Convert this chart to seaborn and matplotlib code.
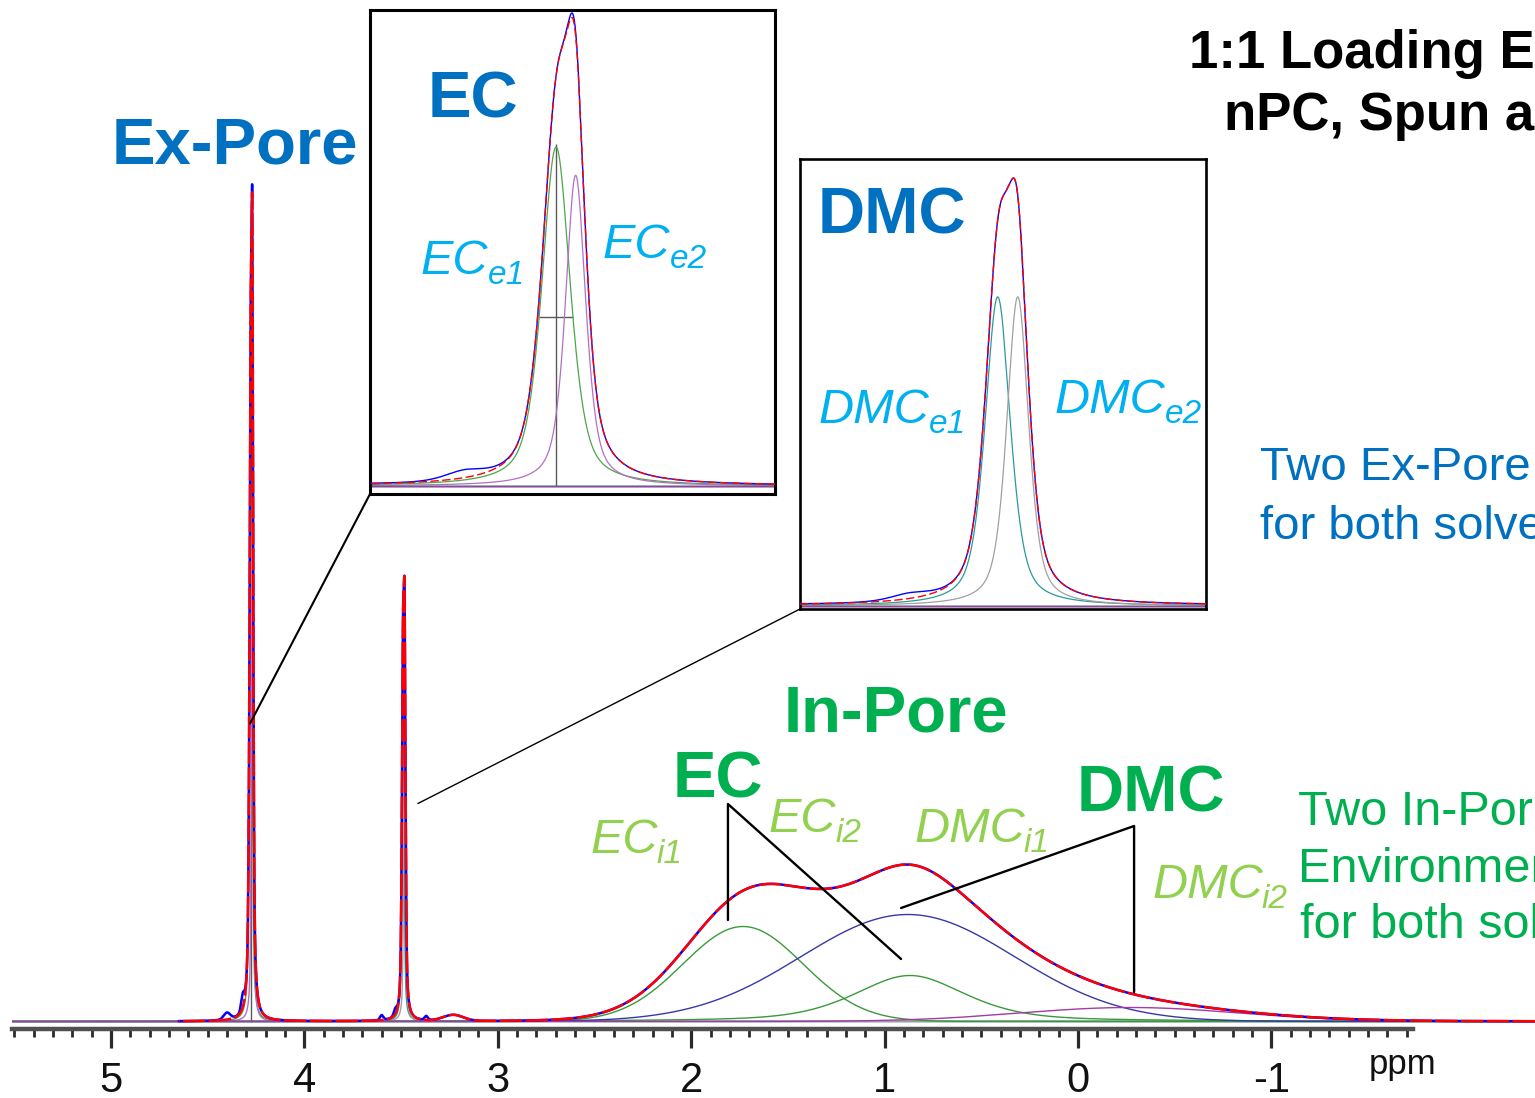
import numpy as np
import matplotlib
matplotlib.use("Agg")
import matplotlib.pyplot as plt
import seaborn as sns
from matplotlib.patches import ConnectionPatch
from matplotlib.text import Annotation
from matplotlib.ticker import FixedLocator, StrMethodFormatter

# ---------------------------------------------------------------
# Deconvolution of the 1H MAS spectrum: fitted line shapes
# (centre in ppm, peak intensity, FWHM in ppm, Lorentzian fraction)
# ---------------------------------------------------------------
comp_names = ["EC_e1", "EC_e2", "DMC_e1", "DMC_e2", "EC_i1", "EC_i2", "DMC_i1", "DMC_i2"]
comp_center = [4.2773, 4.2686, 3.4902, 3.4813, 1.732, 0.869, 0.880, -0.269]
comp_height = [600, 550, 322, 322, 95, 46, 107, 14]
comp_fwhm = [0.0150, 0.0107, 0.0133, 0.0115, 0.73, 0.68, 1.30, 1.34]
comp_lorentz = [0.55, 0.60, 0.55, 0.55, 0.0, 0.5, 0.0, 0.0]
comp_colors = ["#4CA64C", "#B36FC4", "#2A9A9A", "#A0A0A0",
               "#3A9A3A", "#3A9A3A", "#3838A8", "#A23AA8"]

# weak extra line included in the fit
minor_center = [3.23]
minor_height = [6]
minor_fwhm = [0.12]

# features present only in the measured spectrum (fit residual)
resid_center = [4.400, 4.318, 4.270, 3.600, 3.529, 3.370]
resid_height = [7, 14, 8, 5, 6, 4]
resid_fwhm = [0.040, 0.020, 0.005, 0.020, 0.020, 0.020]

# acquired spectral window (ppm)
acq_window = [4.65, -2.40]

# axis tick values
major_ticks = [5, 4, 3, 2, 1, 0, -1]


def pseudo_voigt(x, c, h, w, eta):
    d = (x - c) / w
    lor = 1.0 / (1.0 + 4.0 * d ** 2)
    gau = np.exp(-4.0 * np.log(2.0) * d ** 2)
    return h * (eta * lor + (1.0 - eta) * gau)


ppm = np.linspace(-2.40, 5.55, 39751)
comp_curves = [pseudo_voigt(ppm, c, h, w, e)
               for c, h, w, e in zip(comp_center, comp_height, comp_fwhm, comp_lorentz)]
fit = np.sum(comp_curves, axis=0)
for c, h, w in zip(minor_center, minor_height, minor_fwhm):
    fit = fit + pseudo_voigt(ppm, c, h, w, 0.0)
measured = fit.copy()
for c, h, w in zip(resid_center, resid_height, resid_fwhm):
    measured = measured + pseudo_voigt(ppm, c, h, w, 0.3)
in_win = (ppm <= acq_window[0]) & (ppm >= acq_window[1])

# ---------------------------------------------------------------
sns.set_theme(style="white")
plt.rcParams["font.family"] = ["Liberation Sans", "DejaVu Sans"]
plt.rcParams["axes.unicode_minus"] = False

W, H = 1535, 1098


def fx(px):
    return px / W


def fy(py):
    return 1.0 - py / H


fig = plt.figure(figsize=(W / 100, H / 100), dpi=100)
fig.patch.set_facecolor("white")


def draw_spectrum(axis, comp_lw, main_lw, dash):
    for curve, col in zip(comp_curves, comp_colors):
        sns.lineplot(x=ppm, y=curve, ax=axis, color=col, lw=comp_lw,
                     estimator=None, sort=False, zorder=2)
    sns.lineplot(x=ppm[in_win], y=measured[in_win], ax=axis, color="#0000FF",
                 lw=main_lw, estimator=None, sort=False, zorder=3)
    sns.lineplot(x=ppm[in_win], y=fit[in_win], ax=axis, color="#FF0000",
                 lw=main_lw, linestyle=(0, dash), estimator=None, sort=False, zorder=4)
    # peak-picking marker on EC_e1 (position and half-height width)
    c0, h0, w0 = comp_center[0], comp_height[0], comp_fwhm[0]
    axis.vlines(c0, 0, h0 * 1.01, color="#5A5A5A", lw=1.0, zorder=1.5)
    axis.hlines(h0 / 2, c0 - w0 / 2, c0 + w0 / 2, color="#5A5A5A", lw=1.0, zorder=1.5)


# ---------------- main spectrum ----------------
ax = fig.add_axes([fx(12), fy(1029), fx(1535) - fx(12), 1029 / H])
draw_spectrum(ax, comp_lw=1.0, main_lw=1.8, dash=(9, 1.3))
x_left = (1078 - 12) / 193.4
x_right = (1078 - 1535) / 193.4
ax.set_xlim(x_left, x_right)
ax.set_ylim(-7.5, 1021.5)
for s in ["top", "left", "right"]:
    ax.spines[s].set_visible(False)
ax.spines["bottom"].set_color("#505050")
ax.spines["bottom"].set_linewidth(3.2)
ax.spines["bottom"].set_bounds(x_left, -1.73)
ax.set_yticks([])
ax.set_ylabel("")
ax.xaxis.set_major_locator(FixedLocator(major_ticks))
minor = [v / 10 for v in range(-17, 56) if v % 10 != 0]
ax.xaxis.set_minor_locator(FixedLocator(minor))
ax.xaxis.set_major_formatter(StrMethodFormatter("{x:.0f}"))
ax.tick_params(axis="x", which="major", direction="out", length=14, width=2.3,
               color="#2a2a2a", labelsize=30, pad=9, labelcolor="#111111", bottom=True)
ax.tick_params(axis="x", which="minor", direction="out", length=6, width=2.0,
               color="#2a2a2a", bottom=True)
ax.set_xlabel("ppm", fontsize=25, color="#111111")
ax.xaxis.label.set_va("baseline")
ax.xaxis.set_label_coords((1403 - 12) / (1535 - 12), -(1074 - 1029) / 1029)

# leader lines for the in-pore components
ax.plot([1.81, 1.81, 0.915], [101.5, 217.5, 62.5], color="black", lw=1.7, zorder=6)
ax.plot([-0.29, -0.29, 0.915], [29.5, 195.5, 113.5], color="black", lw=1.7, zorder=6)


# ---------------- insets: ex-pore EC and DMC lines ----------------
def make_inset(rect_px, xlim, peak_px, base_px, bottom_px, top_px, frame_lw):
    x0, y0, x1, y1 = rect_px
    a = fig.add_axes([fx(x0), fy(y1), fx(x1 - x0), (y1 - y0) / H], zorder=5)
    a.set_facecolor("white")
    draw_spectrum(a, comp_lw=0.9, main_lw=1.0, dash=(6, 2.5))
    a.set_xlim(*xlim)
    sel = (ppm <= xlim[0]) & (ppm >= xlim[1])
    k = measured[sel].max() / peak_px
    a.set_ylim(-(bottom_px - base_px) * k, (base_px - top_px) * k)
    a.set_xticks([])
    a.set_yticks([])
    a.set_xlabel("")
    a.set_ylabel("")
    for s in a.spines.values():
        s.set_visible(True)
        s.set_color("black")
        s.set_linewidth(frame_lw)
    return a


ax1 = make_inset((370, 10, 775, 494), (4.36, 4.18), 473, 486, 494, 10, 2.2)
ax2 = make_inset((800, 159, 1206, 609), (3.578, 3.3977), 428, 606, 609, 159, 1.9)

fig.add_artist(ConnectionPatch(xyA=(0, 0), coordsA=ax1.transAxes,
                               xyB=(4.281, 298), coordsB=ax.transData,
                               color="black", lw=1.5, zorder=7))
fig.add_artist(ConnectionPatch(xyA=(0, 0), coordsA=ax2.transAxes,
                               xyB=(3.413, 218), coordsB=ax.transData,
                               color="black", lw=1.0, zorder=7))

# ---------------- labels ----------------
BLUE_D, BLUE_L = "#0070C0", "#00B0F0"
GREEN_D, GREEN_L = "#00B050", "#92D050"


def put(px, py, s, **kw):
    return fig.text(fx(px), fy(py), s, ha="left", va="baseline", zorder=10, **kw)


def put_sub(px, py, main, sub, color):
    t = put(px, py, main, fontsize=35, fontstyle="italic", color=color)
    fig.add_artist(Annotation(sub, xy=(1.0, 0.0), xycoords=t, xytext=(-1, 0),
                              textcoords="offset pixels", ha="left", va="baseline",
                              fontsize=24, fontstyle="italic", color=color, zorder=10))


put(112, 163, "Ex-Pore", fontsize=47, fontweight="bold", color=BLUE_D)
put(428, 117, "EC", fontsize=47, fontweight="bold", color=BLUE_D)
put(818, 234, "DMC", fontsize=47, fontweight="bold", color=BLUE_D)
put(784, 732, "In-Pore", fontsize=47, fontweight="bold", color=GREEN_D)
put(673, 798, "EC", fontsize=47, fontweight="bold", color=GREEN_D)
put(1077, 812, "DMC", fontsize=47, fontweight="bold", color=GREEN_D)

put_sub(421, 274, "EC", "e1", BLUE_L)
put_sub(603, 258, "EC", "e2", BLUE_L)
put_sub(819, 423, "DMC", "e1", BLUE_L)
put_sub(1055, 413, "DMC", "e2", BLUE_L)
put_sub(590, 853, "EC", "i1", GREEN_L)
put_sub(769, 832, "EC", "i2", GREEN_L)
put_sub(914, 842, "DMC", "i1", GREEN_L)
put_sub(1152, 898, "DMC", "i2", GREEN_L)

put(1189, 68, "1:1 Loading E", fontsize=38, fontweight="bold", color="black")
put(1224, 130, "nPC, Spun a", fontsize=38, fontweight="bold", color="black")

put(1260, 480, "Two Ex-Pore", fontsize=34, color=BLUE_D)
put(1260, 539, "for both solve", fontsize=34, color=BLUE_D)
put(1298, 825, "Two In-Pore", fontsize=35, color=GREEN_D)
put(1298, 882, "Environmen", fontsize=35, color=GREEN_D)
put(1300, 938, "for both sol", fontsize=35, color=GREEN_D)

fig.savefig("out.png", dpi=100, facecolor="white")
